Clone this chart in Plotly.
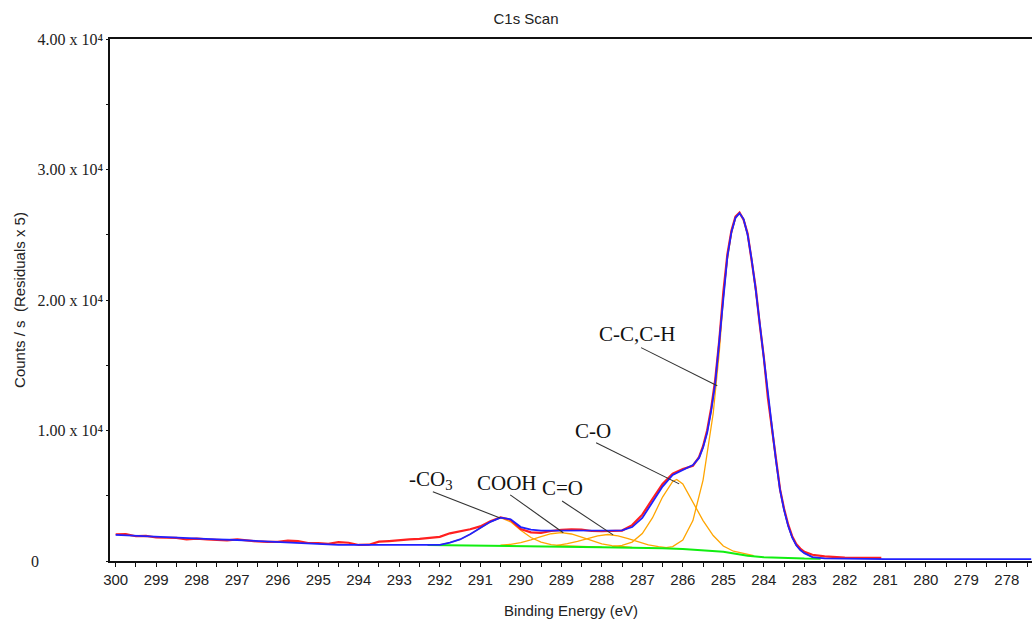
import plotly.graph_objects as go

# ---------------- data ----------------
env_E = [300.0, 299.5, 299.0, 298.5, 298.0, 297.5, 297.0, 296.5, 296.0, 295.5, 295.0, 294.5, 294.0,
         293.5, 293.0, 292.5, 292.0, 291.75, 291.5, 291.25, 291.0, 290.75, 290.5, 290.25, 290.0,
         289.75, 289.5, 289.25, 289.0, 288.75, 288.5, 288.25, 288.0, 287.75, 287.5, 287.25, 287.0,
         286.75, 286.5, 286.25, 286.0, 285.75, 285.6, 285.5, 285.4, 285.3, 285.2, 285.1, 285.0,
         284.9, 284.8, 284.7, 284.6, 284.5, 284.4, 284.3, 284.2, 284.1, 284.0, 283.9, 283.8,
         283.7, 283.6, 283.5, 283.4, 283.3, 283.2, 283.1, 283.0, 282.8, 282.5, 282.0, 281.0,
         280.0, 279.0, 278.0, 277.4]
env_counts = [2000, 1920, 1840, 1760, 1690, 1650, 1610, 1530, 1460, 1400, 1300, 1240, 1230,
              1230, 1230, 1230, 1240, 1400, 1650, 2050, 2510, 3000, 3320, 3200, 2600,
              2400, 2330, 2330, 2350, 2350, 2330, 2320, 2320, 2330, 2350, 2600, 3300,
              4500, 5700, 6600, 6950, 7350, 7900, 8700, 9800, 11500, 13600, 16800, 20500,
              23300, 25200, 26300, 26650, 26200, 25000, 23100, 20800, 18200, 15500, 12600, 10000,
              7700, 5450, 3900, 2700, 1800, 1200, 840, 600, 300, 200, 170, 150,
              150, 150, 150, 150]

raw_E = [300.0, 299.75, 299.5, 299.25, 299.0, 298.75, 298.5, 298.25, 298.0, 297.75, 297.5, 297.25,
         297.0, 296.75, 296.5, 296.25, 296.0, 295.75, 295.5, 295.25, 295.0, 294.75, 294.5, 294.25,
         294.0, 293.75, 293.5, 293.25, 293.0, 292.75, 292.5, 292.25, 292.0, 291.75, 291.5, 291.25,
         291.0, 290.75, 290.5, 290.25, 290.0, 289.75, 289.5, 289.25, 289.0, 288.75, 288.5, 288.25,
         288.0, 287.75, 287.5, 287.25, 287.0, 286.75, 286.5, 286.25, 286.0, 285.75, 285.6, 285.5,
         285.4, 285.3, 285.2, 285.1, 285.0, 284.9, 284.8, 284.7, 284.6, 284.5, 284.4, 284.3,
         284.2, 284.1, 284.0, 283.9, 283.8, 283.7, 283.6, 283.5, 283.4, 283.3, 283.2, 283.1,
         283.0, 282.8, 282.5, 282.0, 281.5, 281.1]
raw_counts = [2050, 2060, 1900, 1930, 1800, 1790, 1770, 1650, 1720, 1660, 1640, 1580,
              1660, 1560, 1500, 1470, 1460, 1560, 1520, 1380, 1380, 1320, 1450, 1400,
              1230, 1250, 1480, 1530, 1610, 1650, 1700, 1790, 1850, 2120, 2250, 2430,
              2650, 3050, 3350, 3150, 2450, 2200, 2150, 2300, 2380, 2420, 2400, 2300,
              2280, 2300, 2330, 2750, 3550, 4750, 5900, 6700, 7050, 7300, 7950, 8800,
              10000, 11700, 13900, 16900, 20600, 23500, 25300, 26400, 26700, 26150, 25100, 23000,
              20900, 18100, 15600, 12500, 10100, 7600, 5500, 4000, 2800, 1900, 1300, 950,
              700, 480, 350, 260, 240, 240]

bg_E = [292.3, 291.5, 291.0, 290.5, 290.0, 289.5, 289.0, 288.5, 288.0, 287.5, 287.0, 286.5,
        286.0, 285.5, 285.0, 284.7, 284.4, 284.0, 283.5, 283.0, 282.6]
bg_counts = [1230, 1210, 1190, 1170, 1150, 1120, 1100, 1080, 1060, 1040, 1020, 980,
             920, 830, 710, 560, 400, 290, 230, 190, 180]

co3_E = [292.3, 292.0, 291.75, 291.5, 291.25, 291.0, 290.75, 290.5, 290.25, 290.0, 289.75, 289.5,
         289.25, 289.0, 288.5, 288.0]
co3_counts = [1230, 1240, 1400, 1650, 2050, 2510, 3000, 3320, 3000, 2350, 1800, 1450,
              1260, 1170, 1090, 1060]

cooh_E = [290.5, 290.25, 290.0, 289.75, 289.5, 289.25, 289.0, 288.75, 288.5, 288.25, 288.0,
          287.75, 287.5, 287.25]
cooh_counts = [1215, 1280, 1410, 1610, 1870, 2090, 2170, 2070, 1830, 1550, 1320,
               1170, 1085, 1035]

co_dbl_E = [289.1, 288.85, 288.6, 288.35, 288.1, 287.85, 287.6, 287.35, 287.1, 286.85, 286.6, 286.35]
co_dbl_counts = [1200, 1325, 1510, 1740, 1930, 2030, 1930, 1720, 1460, 1240, 1095, 1010]

c_o_E = [287.75, 287.5, 287.25, 287.0, 286.75, 286.5, 286.25, 286.15, 286.0, 285.75, 285.5,
         285.25, 285.0, 284.75, 284.5, 284.25]
c_o_counts = [1080, 1200, 1450, 2100, 3300, 4900, 6100, 6250, 5900, 4500, 3100,
              1950, 1150, 750, 560, 420]

cc_E = [286.5, 286.25, 286.0, 285.75, 285.5, 285.25, 285.1, 285.0, 284.9, 284.8, 284.7, 284.6,
        284.5, 284.4, 284.3, 284.2, 284.1, 284.0, 283.9, 283.8, 283.7, 283.6, 283.5, 283.4,
        283.3, 283.2, 283.1, 283.0, 282.8, 282.6]
cc_counts = [990, 1100, 1600, 3100, 6200, 11300, 16000, 20100, 23100, 25100, 26250, 26650,
             26200, 25000, 23100, 20800, 18200, 15500, 12600, 10000, 7700, 5450, 3900, 2700,
             1800, 1200, 840, 600, 300, 190]

x_ticks = list(range(300, 277, -1))
y_tickvals = [0, 10000, 20000, 30000, 40000]
y_ticktext = ["0" + "\u00a0" * 16, "1.00 x 10\u2074", "2.00 x 10\u2074", "3.00 x 10\u2074", "4.00 x 10\u2074"]

# peak labels and their leader lines
label_text = ["C-C,C-H", "C-O", "-CO<sub>3</sub>", "COOH", "C=O"]
label_E = [287.13, 288.21, 292.21, 290.34, 288.98]
label_counts = [17420, 9980, 6220, 5990, 5600]
line_start_E = [287.03, 288.14, 292.17, 290.26, 288.98]
line_start_counts = [16350, 9060, 5300, 5070, 4600]
line_end_E = [285.15, 286.09, 290.51, 288.95, 287.72]
line_end_counts = [13430, 5910, 3300, 2170, 2000]

ORANGE = "#FFA500"
fig = go.Figure()

for E, c in [(co3_E, co3_counts), (cooh_E, cooh_counts), (co_dbl_E, co_dbl_counts),
             (c_o_E, c_o_counts), (cc_E, cc_counts)]:
    fig.add_trace(go.Scatter(x=E, y=c, mode="lines", line=dict(color=ORANGE, width=1.3),
                             showlegend=False, hoverinfo="skip"))
fig.add_trace(go.Scatter(x=bg_E, y=bg_counts, mode="lines", line=dict(color="#11EE11", width=2),
                         showlegend=False))
fig.add_trace(go.Scatter(x=raw_E, y=raw_counts, mode="lines", line=dict(color="#FF2020", width=2.2),
                         showlegend=False))
fig.add_trace(go.Scatter(x=env_E, y=env_counts, mode="lines", line=dict(color="#2020FF", width=1.8),
                         showlegend=False))

shapes = []
annotations = []
for t, lx, ly, sx, sy, ex, ey in zip(label_text, label_E, label_counts, line_start_E,
                                      line_start_counts, line_end_E, line_end_counts):
    shapes.append(dict(type="line", xref="x", yref="y", x0=sx, y0=sy, x1=ex, y1=ey,
                       line=dict(color="#333333", width=1.1)))
    annotations.append(dict(x=lx, y=ly, xref="x", yref="y", text=t, showarrow=False,
                            font=dict(family="Liberation Serif", size=21, color="#111111"),
                            xanchor="center", yanchor="middle"))

fig.update_layout(
    width=1032, height=624,
    margin=dict(l=110, r=0, t=39, b=63),
    paper_bgcolor="white", plot_bgcolor="white",
    title=dict(text="C1s Scan", x=526 / 1032, xref="container", xanchor="center",
               y=1 - 19 / 624, yref="container", yanchor="middle",
               font=dict(family="Arial, Liberation Sans", size=15, color="#222222")),
    annotations=annotations,
    shapes=shapes,
    xaxis=dict(range=[300.14, 277.38], tickvals=x_ticks, ticktext=[str(v) for v in x_ticks],
               title=dict(text="Binding Energy (eV)", standoff=19,
                          font=dict(family="Arial, Liberation Sans", size=15, color="#222222")),
               showgrid=False, zeroline=False, showline=True, linecolor="#111111", linewidth=1.5,
               mirror=True, ticks="outside", ticklen=4, tickcolor="#111111", tickwidth=1.2,
               minor=dict(dtick=0.5, tick0=300, ticks="outside", ticklen=4, tickcolor="#111111",
                          tickwidth=1.2),
               tickfont=dict(family="Arial, Liberation Sans", size=15, color="#222222")),
    yaxis=dict(range=[0, 40000], tickvals=y_tickvals, ticktext=y_ticktext,
               title=dict(text="Counts / s  (Residuals x 5)", standoff=2,
                          font=dict(family="Arial, Liberation Sans", size=15, color="#222222")),
               showgrid=False, zeroline=False, showline=True, linecolor="#111111", linewidth=1.5,
               ticks="outside", ticklen=2, tickcolor="#111111", tickwidth=1.2,
               minor=dict(dtick=5000, tick0=0, ticks="outside", ticklen=2, tickcolor="#111111"),
               tickfont=dict(family="Liberation Serif", size=16, color="#222222")),
)

fig.write_html("out.html")
